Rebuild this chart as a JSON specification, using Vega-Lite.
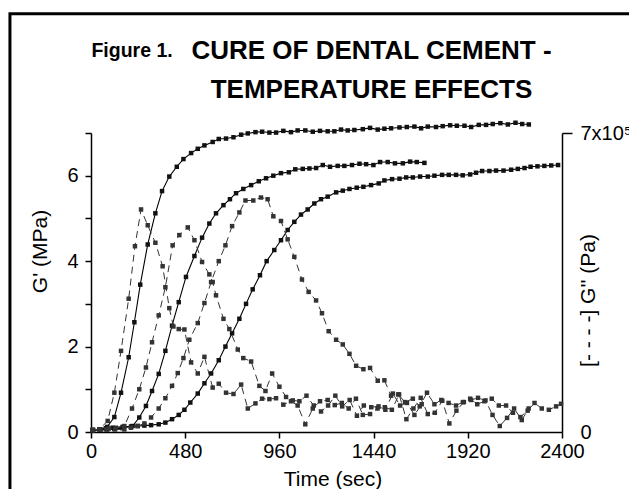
{
 "$schema": "https://vega.github.io/schema/vega-lite/v6.json",
 "width": 471,
 "height": 299,
 "autosize": {"type": "none"},
 "padding": {"left": 91, "top": 133, "right": 67, "bottom": 57},
 "background": "white",
 "config": {
  "view": {"stroke": null},
  "font": "Liberation Sans",
  "axis": {"domainColor": "black", "domainWidth": 1.5, "tickColor": "black", "tickWidth": 1.5, "labelColor": "black", "labelFontSize": 20, "labelFont": "Liberation Sans", "titleFont": "Liberation Sans", "titleFontSize": 21, "titleFontWeight": "normal", "titleColor": "black", "grid": false, "labelOverlap": false, "labelBound": false, "labelFlush": false}
 },
 "title": {"text": ["CURE OF DENTAL CEMENT -", "TEMPERATURE EFFECTS"], "font": "Liberation Sans", "fontSize": 26, "fontWeight": "bold", "color": "black", "anchor": "middle", "dx": 45, "lineHeight": 39, "offset": -91},
 "datasets": {
  "gprime": [
   {"run":"T1","time":10,"value":0.05},{"run":"T1","time":47,"value":0.06},{"run":"T1","time":83,"value":0.12},{"run":"T1","time":119,"value":0.35},{"run":"T1","time":153,"value":0.92},{"run":"T1","time":192,"value":1.75},{"run":"T1","time":221,"value":2.57},{"run":"T1","time":251,"value":3.45},{"run":"T1","time":289,"value":4.39},{"run":"T1","time":328,"value":5.12},{"run":"T1","time":362,"value":5.64},{"run":"T1","time":399,"value":5.98},{"run":"T1","time":437,"value":6.21},{"run":"T1","time":471,"value":6.39},{"run":"T1","time":510,"value":6.53},{"run":"T1","time":544,"value":6.63},{"run":"T1","time":578,"value":6.71},{"run":"T1","time":620,"value":6.79},{"run":"T1","time":651,"value":6.86},{"run":"T1","time":688,"value":6.87},{"run":"T1","time":726,"value":6.9},{"run":"T1","time":765,"value":6.96},{"run":"T1","time":799,"value":6.99},{"run":"T1","time":838,"value":7.02},{"run":"T1","time":872,"value":7.03},{"run":"T1","time":909,"value":7.01},{"run":"T1","time":943,"value":7.01},{"run":"T1","time":980,"value":7.05},{"run":"T1","time":1019,"value":7.02},{"run":"T1","time":1053,"value":7.06},{"run":"T1","time":1092,"value":7.06},{"run":"T1","time":1130,"value":7.03},{"run":"T1","time":1167,"value":7.05},{"run":"T1","time":1206,"value":7.04},{"run":"T1","time":1240,"value":7.04},{"run":"T1","time":1274,"value":7.08},{"run":"T1","time":1308,"value":7.06},{"run":"T1","time":1342,"value":7.07},{"run":"T1","time":1385,"value":7.09},{"run":"T1","time":1422,"value":7.12},{"run":"T1","time":1461,"value":7.08},{"run":"T1","time":1495,"value":7.1},{"run":"T1","time":1529,"value":7.11},{"run":"T1","time":1572,"value":7.13},{"run":"T1","time":1609,"value":7.14},{"run":"T1","time":1648,"value":7.15},{"run":"T1","time":1682,"value":7.11},{"run":"T1","time":1716,"value":7.15},{"run":"T1","time":1758,"value":7.14},{"run":"T1","time":1792,"value":7.16},{"run":"T1","time":1830,"value":7.18},{"run":"T1","time":1864,"value":7.17},{"run":"T1","time":1903,"value":7.17},{"run":"T1","time":1937,"value":7.14},{"run":"T1","time":1976,"value":7.19},{"run":"T1","time":2013,"value":7.19},{"run":"T1","time":2047,"value":7.21},{"run":"T1","time":2086,"value":7.23},{"run":"T1","time":2124,"value":7.2},{"run":"T1","time":2163,"value":7.24},{"run":"T1","time":2197,"value":7.21},{"run":"T1","time":2231,"value":7.2},
   {"run":"T2","time":10,"value":0.04},{"run":"T2","time":47,"value":0.05},{"run":"T2","time":83,"value":0.06},{"run":"T2","time":119,"value":0.07},{"run":"T2","time":160,"value":0.09},{"run":"T2","time":212,"value":0.14},{"run":"T2","time":246,"value":0.34},{"run":"T2","time":280,"value":0.61},{"run":"T2","time":311,"value":0.96},{"run":"T2","time":345,"value":1.36},{"run":"T2","time":379,"value":1.9},{"run":"T2","time":413,"value":2.49},{"run":"T2","time":447,"value":3.04},{"run":"T2","time":484,"value":3.63},{"run":"T2","time":527,"value":4.12},{"run":"T2","time":566,"value":4.55},{"run":"T2","time":603,"value":4.88},{"run":"T2","time":637,"value":5.12},{"run":"T2","time":675,"value":5.31},{"run":"T2","time":708,"value":5.45},{"run":"T2","time":739,"value":5.59},{"run":"T2","time":776,"value":5.69},{"run":"T2","time":816,"value":5.78},{"run":"T2","time":855,"value":5.87},{"run":"T2","time":892,"value":5.94},{"run":"T2","time":929,"value":6.0},{"run":"T2","time":968,"value":6.06},{"run":"T2","time":1008,"value":6.08},{"run":"T2","time":1041,"value":6.15},{"run":"T2","time":1079,"value":6.16},{"run":"T2","time":1113,"value":6.17},{"run":"T2","time":1147,"value":6.18},{"run":"T2","time":1181,"value":6.25},{"run":"T2","time":1218,"value":6.21},{"run":"T2","time":1257,"value":6.23},{"run":"T2","time":1291,"value":6.23},{"run":"T2","time":1330,"value":6.25},{"run":"T2","time":1368,"value":6.28},{"run":"T2","time":1402,"value":6.27},{"run":"T2","time":1439,"value":6.25},{"run":"T2","time":1473,"value":6.32},{"run":"T2","time":1512,"value":6.32},{"run":"T2","time":1549,"value":6.29},{"run":"T2","time":1589,"value":6.29},{"run":"T2","time":1626,"value":6.33},{"run":"T2","time":1660,"value":6.32},{"run":"T2","time":1699,"value":6.3},
   {"run":"T3","time":8,"value":0.04},{"run":"T3","time":42,"value":0.06},{"run":"T3","time":76,"value":0.09},{"run":"T3","time":110,"value":0.1},{"run":"T3","time":161,"value":0.12},{"run":"T3","time":204,"value":0.13},{"run":"T3","time":238,"value":0.14},{"run":"T3","time":272,"value":0.15},{"run":"T3","time":306,"value":0.16},{"run":"T3","time":345,"value":0.18},{"run":"T3","time":379,"value":0.22},{"run":"T3","time":413,"value":0.3},{"run":"T3","time":447,"value":0.4},{"run":"T3","time":476,"value":0.52},{"run":"T3","time":506,"value":0.69},{"run":"T3","time":544,"value":0.9},{"run":"T3","time":578,"value":1.14},{"run":"T3","time":612,"value":1.37},{"run":"T3","time":651,"value":1.68},{"run":"T3","time":685,"value":2.0},{"run":"T3","time":719,"value":2.31},{"run":"T3","time":756,"value":2.65},{"run":"T3","time":790,"value":3.0},{"run":"T3","time":824,"value":3.34},{"run":"T3","time":861,"value":3.67},{"run":"T3","time":895,"value":4.0},{"run":"T3","time":934,"value":4.26},{"run":"T3","time":968,"value":4.49},{"run":"T3","time":1002,"value":4.73},{"run":"T3","time":1036,"value":4.92},{"run":"T3","time":1070,"value":5.09},{"run":"T3","time":1104,"value":5.21},{"run":"T3","time":1138,"value":5.35},{"run":"T3","time":1172,"value":5.45},{"run":"T3","time":1206,"value":5.51},{"run":"T3","time":1249,"value":5.61},{"run":"T3","time":1283,"value":5.65},{"run":"T3","time":1317,"value":5.69},{"run":"T3","time":1354,"value":5.72},{"run":"T3","time":1388,"value":5.74},{"run":"T3","time":1427,"value":5.78},{"run":"T3","time":1466,"value":5.82},{"run":"T3","time":1495,"value":5.89},{"run":"T3","time":1534,"value":5.92},{"run":"T3","time":1572,"value":5.93},{"run":"T3","time":1606,"value":5.96},{"run":"T3","time":1640,"value":5.96},{"run":"T3","time":1677,"value":5.98},{"run":"T3","time":1716,"value":5.98},{"run":"T3","time":1750,"value":6.0},{"run":"T3","time":1789,"value":6.02},{"run":"T3","time":1823,"value":6.02},{"run":"T3","time":1860,"value":6.02},{"run":"T3","time":1894,"value":6.01},{"run":"T3","time":1932,"value":6.03},{"run":"T3","time":1962,"value":6.07},{"run":"T3","time":1993,"value":6.11},{"run":"T3","time":2030,"value":6.11},{"run":"T3","time":2064,"value":6.12},{"run":"T3","time":2102,"value":6.12},{"run":"T3","time":2141,"value":6.14},{"run":"T3","time":2175,"value":6.16},{"run":"T3","time":2209,"value":6.18},{"run":"T3","time":2240,"value":6.21},{"run":"T3","time":2275,"value":6.22},{"run":"T3","time":2310,"value":6.23},{"run":"T3","time":2345,"value":6.24},{"run":"T3","time":2380,"value":6.25}
  ],
  "gdouble": [
   {"run":"T1","time":8,"value":5000},{"run":"T1","time":42,"value":6000},{"run":"T1","time":85,"value":26000},{"run":"T1","time":119,"value":92000},{"run":"T1","time":153,"value":190000},{"run":"T1","time":192,"value":312000},{"run":"T1","time":224,"value":435000},{"run":"T1","time":255,"value":521000},{"run":"T1","time":289,"value":484000},{"run":"T1","time":328,"value":443000},{"run":"T1","time":365,"value":388000},{"run":"T1","time":399,"value":290000},{"run":"T1","time":420,"value":247000},{"run":"T1","time":447,"value":241000},{"run":"T1","time":476,"value":240000},{"run":"T1","time":510,"value":163000},{"run":"T1","time":544,"value":137000},{"run":"T1","time":578,"value":176000},{"run":"T1","time":620,"value":104000},{"run":"T1","time":651,"value":113000},{"run":"T1","time":688,"value":92000},{"run":"T1","time":726,"value":89000},{"run":"T1","time":765,"value":111000},{"run":"T1","time":799,"value":55000},{"run":"T1","time":838,"value":67000},{"run":"T1","time":872,"value":78000},{"run":"T1","time":909,"value":77000},{"run":"T1","time":943,"value":79000},{"run":"T1","time":980,"value":64000},{"run":"T1","time":1019,"value":72000},{"run":"T1","time":1053,"value":62000},{"run":"T1","time":1092,"value":18000},{"run":"T1","time":1130,"value":55000},{"run":"T1","time":1167,"value":72000},{"run":"T1","time":1206,"value":75000},{"run":"T1","time":1242,"value":63000},{"run":"T1","time":1278,"value":68000},{"run":"T1","time":1313,"value":55000},{"run":"T1","time":1350,"value":78000},{"run":"T1","time":1385,"value":40000},{"run":"T1","time":1422,"value":42000},{"run":"T1","time":1460,"value":55000},{"run":"T1","time":1497,"value":58000},{"run":"T1","time":1533,"value":52000},{"run":"T1","time":1570,"value":88000},{"run":"T1","time":1607,"value":30000},{"run":"T1","time":1643,"value":55000},{"run":"T1","time":1680,"value":80000},{"run":"T1","time":1716,"value":42000},{"run":"T1","time":1752,"value":45000},{"run":"T1","time":1790,"value":73000},{"run":"T1","time":1826,"value":20000},{"run":"T1","time":1862,"value":50000},{"run":"T1","time":1900,"value":70000},{"run":"T1","time":1936,"value":75000},{"run":"T1","time":1972,"value":80000},{"run":"T1","time":2010,"value":74000},{"run":"T1","time":2046,"value":40000},{"run":"T1","time":2083,"value":14000},{"run":"T1","time":2120,"value":33000},{"run":"T1","time":2156,"value":55000},{"run":"T1","time":2195,"value":28000},{"run":"T1","time":2230,"value":55000},
   {"run":"T2","time":10,"value":5000},{"run":"T2","time":47,"value":6000},{"run":"T2","time":90,"value":8000},{"run":"T2","time":127,"value":10000},{"run":"T2","time":170,"value":14000},{"run":"T2","time":209,"value":55000},{"run":"T2","time":246,"value":100000},{"run":"T2","time":280,"value":151000},{"run":"T2","time":311,"value":210000},{"run":"T2","time":345,"value":273000},{"run":"T2","time":379,"value":339000},{"run":"T2","time":416,"value":437000},{"run":"T2","time":450,"value":461000},{"run":"T2","time":493,"value":479000},{"run":"T2","time":527,"value":449000},{"run":"T2","time":566,"value":398000},{"run":"T2","time":603,"value":369000},{"run":"T2","time":620,"value":351000},{"run":"T2","time":637,"value":320000},{"run":"T2","time":675,"value":265000},{"run":"T2","time":705,"value":241000},{"run":"T2","time":748,"value":193000},{"run":"T2","time":776,"value":173000},{"run":"T2","time":816,"value":165000},{"run":"T2","time":858,"value":108000},{"run":"T2","time":889,"value":96000},{"run":"T2","time":923,"value":137000},{"run":"T2","time":960,"value":106000},{"run":"T2","time":994,"value":82000},{"run":"T2","time":1028,"value":74000},{"run":"T2","time":1062,"value":72000},{"run":"T2","time":1098,"value":85000},{"run":"T2","time":1135,"value":62000},{"run":"T2","time":1172,"value":48000},{"run":"T2","time":1208,"value":62000},{"run":"T2","time":1245,"value":85000},{"run":"T2","time":1280,"value":60000},{"run":"T2","time":1318,"value":75000},{"run":"T2","time":1355,"value":38000},{"run":"T2","time":1390,"value":62000},{"run":"T2","time":1428,"value":58000},{"run":"T2","time":1465,"value":60000},{"run":"T2","time":1500,"value":52000},{"run":"T2","time":1538,"value":90000},{"run":"T2","time":1575,"value":62000},{"run":"T2","time":1610,"value":68000},{"run":"T2","time":1648,"value":40000},{"run":"T2","time":1685,"value":65000},
   {"run":"T3","time":8,"value":4000},{"run":"T3","time":42,"value":5000},{"run":"T3","time":76,"value":6000},{"run":"T3","time":123,"value":6000},{"run":"T3","time":170,"value":6000},{"run":"T3","time":204,"value":10000},{"run":"T3","time":238,"value":14000},{"run":"T3","time":272,"value":20000},{"run":"T3","time":306,"value":34000},{"run":"T3","time":345,"value":55000},{"run":"T3","time":379,"value":79000},{"run":"T3","time":413,"value":108000},{"run":"T3","time":442,"value":138000},{"run":"T3","time":471,"value":173000},{"run":"T3","time":501,"value":216000},{"run":"T3","time":544,"value":255000},{"run":"T3","time":578,"value":302000},{"run":"T3","time":612,"value":351000},{"run":"T3","time":651,"value":400000},{"run":"T3","time":685,"value":437000},{"run":"T3","time":719,"value":482000},{"run":"T3","time":756,"value":514000},{"run":"T3","time":787,"value":542000},{"run":"T3","time":827,"value":542000},{"run":"T3","time":866,"value":549000},{"run":"T3","time":900,"value":545000},{"run":"T3","time":929,"value":505000},{"run":"T3","time":968,"value":494000},{"run":"T3","time":1002,"value":451000},{"run":"T3","time":1036,"value":410000},{"run":"T3","time":1075,"value":357000},{"run":"T3","time":1109,"value":328000},{"run":"T3","time":1147,"value":308000},{"run":"T3","time":1177,"value":278000},{"run":"T3","time":1211,"value":236000},{"run":"T3","time":1249,"value":216000},{"run":"T3","time":1283,"value":205000},{"run":"T3","time":1317,"value":183000},{"run":"T3","time":1351,"value":155000},{"run":"T3","time":1388,"value":147000},{"run":"T3","time":1422,"value":150000},{"run":"T3","time":1461,"value":120000},{"run":"T3","time":1495,"value":121000},{"run":"T3","time":1529,"value":85000},{"run":"T3","time":1565,"value":88000},{"run":"T3","time":1600,"value":70000},{"run":"T3","time":1640,"value":78000},{"run":"T3","time":1675,"value":60000},{"run":"T3","time":1712,"value":92000},{"run":"T3","time":1750,"value":65000},{"run":"T3","time":1785,"value":75000},{"run":"T3","time":1822,"value":68000},{"run":"T3","time":1860,"value":62000},{"run":"T3","time":1895,"value":70000},{"run":"T3","time":1932,"value":78000},{"run":"T3","time":1968,"value":65000},{"run":"T3","time":2005,"value":72000},{"run":"T3","time":2042,"value":78000},{"run":"T3","time":2078,"value":62000},{"run":"T3","time":2115,"value":62000},{"run":"T3","time":2150,"value":45000},{"run":"T3","time":2188,"value":35000},{"run":"T3","time":2225,"value":50000},{"run":"T3","time":2260,"value":68000},{"run":"T3","time":2297,"value":55000},{"run":"T3","time":2333,"value":52000},{"run":"T3","time":2370,"value":60000},{"run":"T3","time":2395,"value":66000}
  ],
  "notes": [{"label": "Figure 1.", "time": 2, "level": 8.78}],
  "frame": [{"left": -413, "right": 2800, "top": 9.79, "bottom": -1.7}]
 },
 "encoding": {
  "x": {"field": "time", "type": "quantitative", "scale": {"domain": [0, 2400], "nice": false},
   "axis": {"values": [0, 480, 960, 1440, 1920, 2400], "format": "d", "title": "Time (sec)", "tickSize": 6, "labelPadding": 3, "titleX": 241.5, "titleY": 53, "titleBaseline": "alphabetic"}}
 },
 "layer": [
  {"data": {"name": "gprime"},
   "encoding": {"y": {"field": "value", "type": "quantitative", "scale": {"domain": [0, 7], "nice": false},
      "axis": {"orient": "left", "values": [0, 1, 2, 3, 4, 5, 6, 7], "labelExpr": "datum.value % 2 === 0 ? datum.label : ''", "title": "G' (MPa)", "titleX": -45, "titleY": 118, "titleAngle": 270, "titleBaseline": "alphabetic", "titleAlign": "center", "tickSize": 6, "labelPadding": 7}},
     "detail": {"field": "run"}},
   "layer": [
    {"mark": {"type": "line", "color": "black", "strokeWidth": 1.1}},
    {"mark": {"type": "point", "shape": "square", "filled": true, "size": 20, "color": "#111111", "opacity": 1}}
   ]},
  {"data": {"name": "gdouble"},
   "encoding": {"y": {"field": "value", "type": "quantitative", "scale": {"domain": [0, 700000], "nice": false},
     "axis": {"orient": "right", "values": [0, 700000], "labelExpr": "datum.value === 0 ? '0' : '7x10⁵'", "title": "[- - - -]  G'' (Pa)", "titleX": 32, "titleY": 167, "titleAngle": 270, "titleBaseline": "alphabetic", "titleAlign": "center", "tickSize": 10, "labelPadding": 8, "tickOpacity": {"condition": {"test": "datum.value === 0", "value": 0}, "value": 1}}},
    "detail": {"field": "run"}},
   "layer": [
    {"mark": {"type": "line", "color": "#333333", "strokeWidth": 1, "strokeDash": [7, 5]}},
    {"mark": {"type": "point", "shape": "square", "filled": true, "size": 20, "color": "#333333", "opacity": 1}}
   ]},
  {"data": {"name": "notes"},
   "mark": {"type": "text", "align": "left", "baseline": "alphabetic", "fontSize": 19.5, "fontWeight": "bold", "color": "black", "font": "Liberation Sans"},
   "encoding": {"y": {"field": "level", "type": "quantitative", "scale": {"domain": [0, 7], "nice": false}, "axis": null}, "text": {"field": "label"}}},
  {"data": {"name": "frame"},
   "mark": {"type": "rect", "filled": false, "stroke": "black", "strokeWidth": 3},
   "encoding": {"x": {"field": "left", "type": "quantitative"}, "x2": {"field": "right"}, "y": {"field": "top", "type": "quantitative", "scale": {"domain": [0, 7], "nice": false}, "axis": null}, "y2": {"field": "bottom"}}}
 ],
 "resolve": {"scale": {"y": "independent"}}
}
